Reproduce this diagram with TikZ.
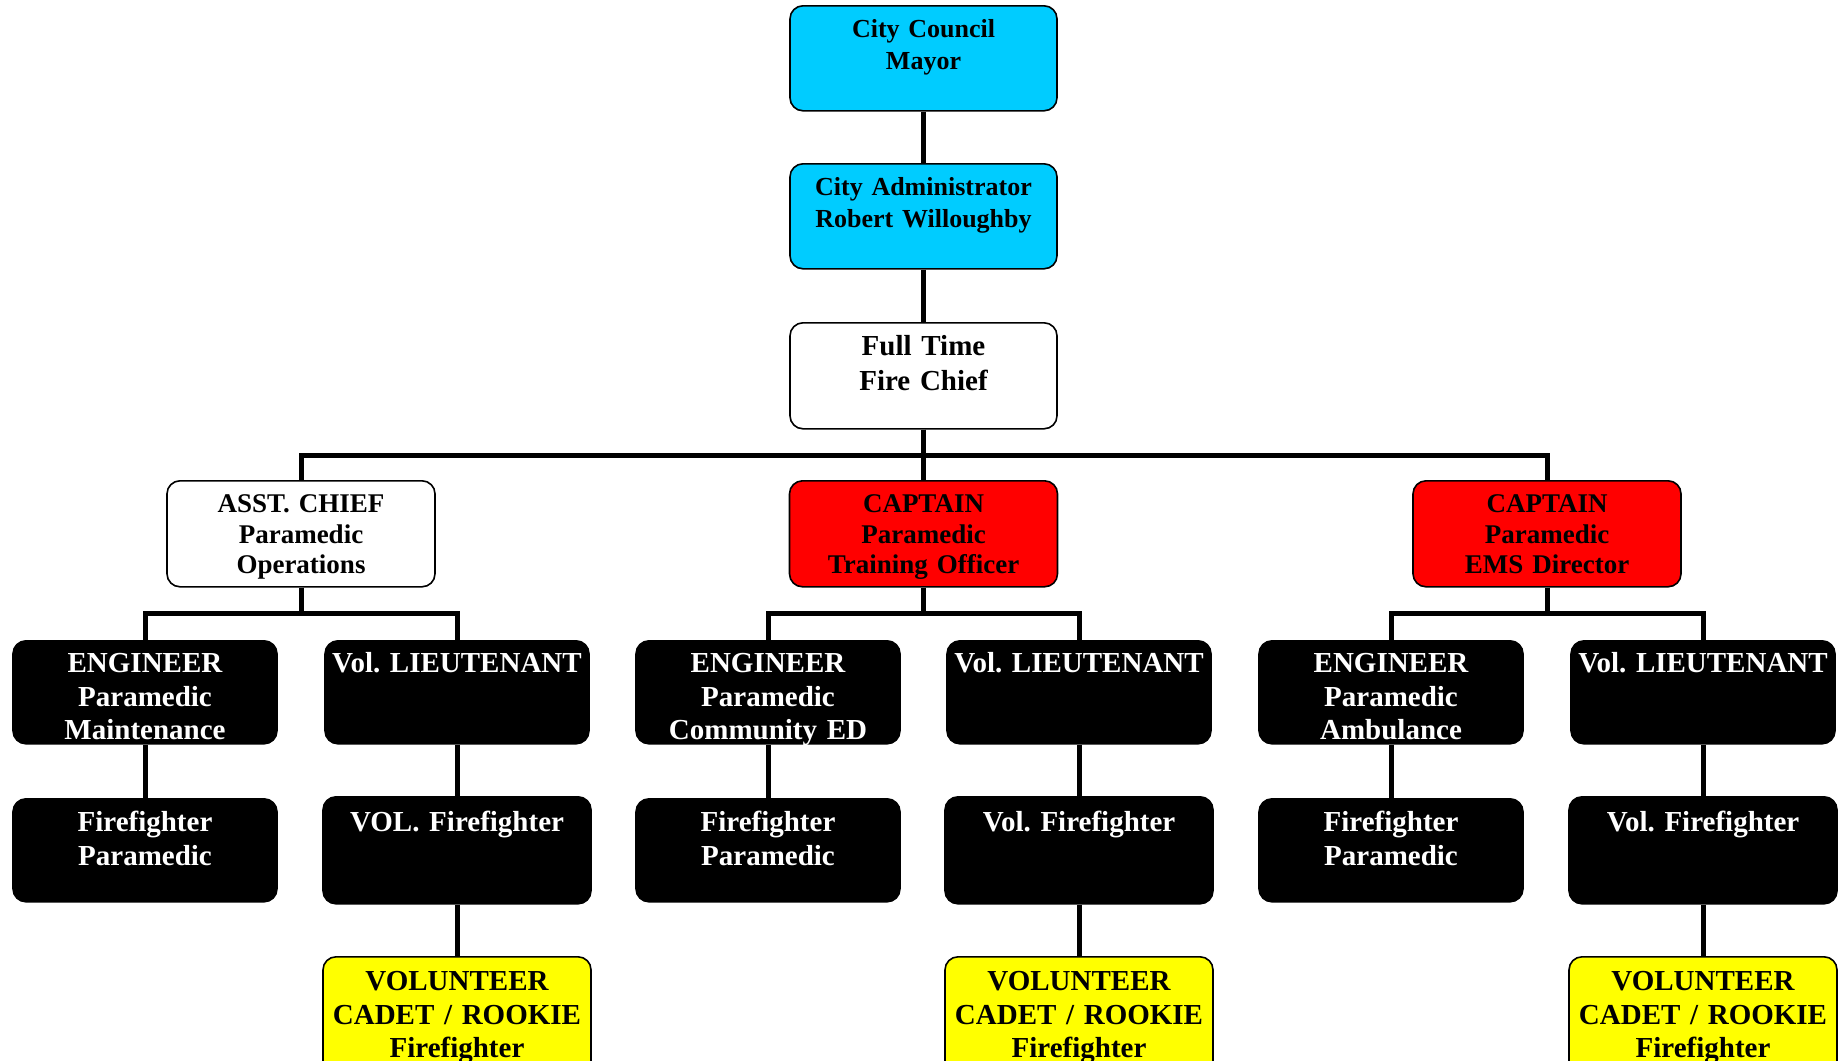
\documentclass[tikz,border=0pt]{standalone}
\usepackage{fontspec}
\setmainfont{Liberation Serif}
\frenchspacing
\definecolor{councilblue}{RGB}{0,204,255}
\definecolor{captainred}{RGB}{255,0,0}
\definecolor{cadetyellow}{RGB}{255,255,0}
\tikzset{
%Define standard style of a post box
post/.style={draw, line width=1.6pt, rounded corners=13pt, inner sep=0pt, anchor=north, align=center},
%Define style for the different levels
citypost/.style={post, fill=councilblue, text width=267pt, text height=32pt, text depth=73pt, font=\bfseries\fontsize{26}{32}\selectfont},
chiefpost/.style={post, fill=white, text width=267pt, text height=33pt, text depth=73pt, font=\bfseries\fontsize{29}{35}\selectfont},
officerpost/.style={post, text width=268pt, text height=32pt, text depth=74pt, font=\bfseries\fontsize{27}{30.5}\selectfont},
crewpost/.style={post, fill=black, text=white, text width=264pt, text height=32pt, text depth=71pt, font=\bfseries\fontsize{29}{33.5}\selectfont},
volpost/.style={post, fill=black, text=white, text width=268pt, text height=35pt, text depth=72pt, font=\bfseries\fontsize{29}{33.5}\selectfont},
cadetpost/.style={post, fill=cadetyellow, text width=268pt, text height=34pt, text depth=96pt, font=\bfseries\fontsize{29}{33.5}\selectfont},
%Define style for connection lines
link/.style={line width=5pt},
}

\begin{document}
\begin{tikzpicture}[x=1pt, y=1pt]
    \useasboundingbox (0,0) rectangle (1843,-1060);
    \clip (0,0) rectangle (1843,-1060);
    % City level
    \node[citypost] (council) at (923.5,-5) {City Council\\Mayor};
    \node[citypost] (admin) at (923.5,-163) {City Administrator\\Robert Willoughby};
    \node[chiefpost] (chief) at (923.5,-322) {Full Time\\Fire Chief};
    % Officers
    \node[officerpost, fill=white] (asst) at (301,-480) {ASST. CHIEF\\Paramedic\\Operations};
    \node[officerpost, fill=captainred] (training) at (923.5,-480) {CAPTAIN\\Paramedic\\Training Officer};
    \node[officerpost, fill=captainred] (ems) at (1547,-480) {CAPTAIN\\Paramedic\\EMS Director};
    % Engineers and lieutenants
    \node[crewpost] (engmaint) at (145,-640) {ENGINEER\\Paramedic\\Maintenance};
    \node[crewpost] (ltops) at (457,-640) {Vol. LIEUTENANT};
    \node[crewpost] (engcomm) at (768,-640) {ENGINEER\\Paramedic\\Community ED};
    \node[crewpost] (lttraining) at (1079,-640) {Vol. LIEUTENANT};
    \node[crewpost] (engamb) at (1391,-640) {ENGINEER\\Paramedic\\Ambulance};
    \node[crewpost] (ltems) at (1703,-640) {Vol. LIEUTENANT};
    % Firefighters
    \node[crewpost, text height=33pt, text depth=70pt] (ffops) at (145,-798) {Firefighter\\Paramedic};
    \node[volpost] (volops) at (457,-796) {VOL. Firefighter};
    \node[crewpost, text height=33pt, text depth=70pt] (fftraining) at (768,-798) {Firefighter\\Paramedic};
    \node[volpost] (voltraining) at (1079,-796) {Vol. Firefighter};
    \node[crewpost, text height=33pt, text depth=70pt] (ffems) at (1391,-798) {Firefighter\\Paramedic};
    \node[volpost] (volems) at (1703,-796) {Vol. Firefighter};
    % Cadets
    \node[cadetpost] (cadetops) at (457,-956) {VOLUNTEER\\CADET / ROOKIE\\Firefighter};
    \node[cadetpost] (cadettraining) at (1079,-956) {VOLUNTEER\\CADET / ROOKIE\\Firefighter};
    \node[cadetpost] (cadetems) at (1703,-956) {VOLUNTEER\\CADET / ROOKIE\\Firefighter};
    % Connections
    \draw[link] (council.south) -- (admin.north);
    \draw[link] (admin.south) -- (chief.north);
    \foreach \k in {asst,training,ems}
        \draw[link] (chief.south) -- ++(0,-26) -| (\k.north);
    \foreach \p/\a/\b in {asst/engmaint/ltops, training/engcomm/lttraining, ems/engamb/ltems} {
        \draw[link] (\p.south) -- ++(0,-26) -| (\a.north);
        \draw[link] (\p.south) -- ++(0,-26) -| (\b.north);
    }
    \foreach \a/\b in {engmaint/ffops, ltops/volops, engcomm/fftraining, lttraining/voltraining, engamb/ffems, ltems/volems, volops/cadetops, voltraining/cadettraining, volems/cadetems}
        \draw[link] (\a.south) -- (\b.north);
\end{tikzpicture}
\end{document}
